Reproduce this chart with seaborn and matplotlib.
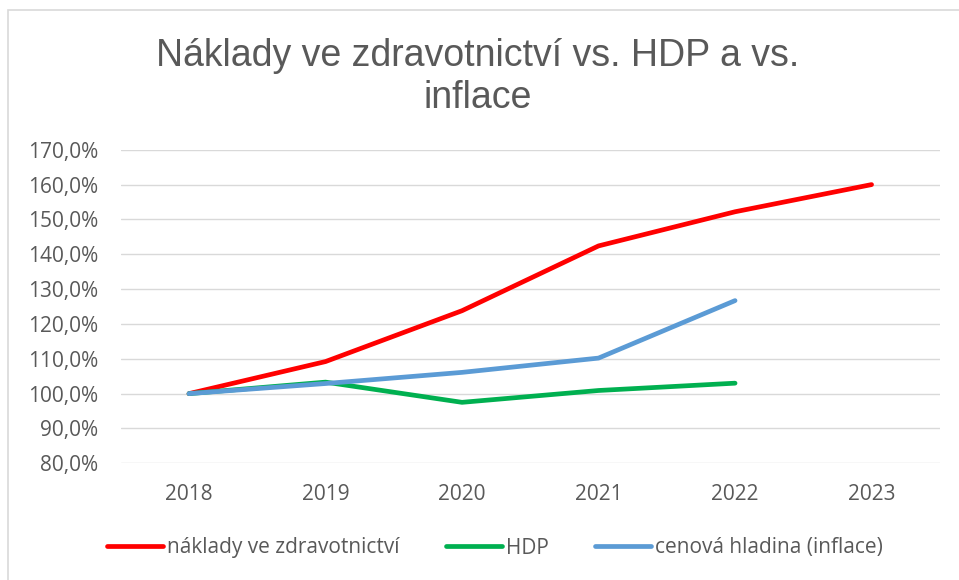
import pandas as pd
import matplotlib.pyplot as plt
import seaborn as sns
from matplotlib.ticker import FuncFormatter
from matplotlib.patches import Rectangle

# data (index, 2018 = 100 %)
years = ['2018', '2019', '2020', '2021', '2022', '2023']
naklady = [100.0, 109.2, 123.8, 142.4, 152.2, 160.0]
hdp = [100.0, 103.3, 97.5, 100.9, 103.0, None]
inflace = [100.0, 102.9, 106.1, 110.2, 126.7, None]

series_names = ['náklady ve zdravotnictví', 'HDP', 'cenová hladina (inflace)']
colors = ['#FF0000', '#00B050', '#5B9BD5']

df = pd.DataFrame({
    'rok': years * 3,
    'hodnota': naklady + hdp + inflace,
    'rada': [s for s in series_names for _ in years],
}).dropna()

sns.set_style('white')
plt.rcParams['font.family'] = ['Open Sans', 'DejaVu Sans']

fig = plt.figure(figsize=(9.59, 5.8), dpi=100)
ax = fig.add_axes([0.1259, 0.2012, 0.8541, 0.5406])

sns.lineplot(data=df, x='rok', y='hodnota', hue='rada', hue_order=series_names,
             palette=colors, linewidth=3.4, solid_capstyle='round', ax=ax,
             sort=False)

ax.set_ylim(80, 170)
ax.set_xlim(-0.5, 5.5)
ax.set_yticks(range(80, 171, 10))
ax.yaxis.set_major_formatter(FuncFormatter(lambda v, p: f"{v:.1f}%".replace('.', ',')))
ax.grid(axis='y', color='#D9D9D9', linewidth=1.0)
ax.set_axisbelow(True)
for s in ax.spines.values():
    s.set_visible(False)
ax.tick_params(axis='both', length=0, labelsize=15, labelcolor='#595959')
ax.tick_params(axis='y', pad=16.5)
ax.tick_params(axis='x', pad=15)
ax.set_xlabel('')
ax.set_ylabel('')

ax.legend(loc='center', bbox_to_anchor=(495 / 959, 1 - 548 / 580), bbox_transform=fig.transFigure,
          ncol=3, frameon=False, fontsize=15, handlelength=2.7, handletextpad=0.2,
          columnspacing=2.2, labelcolor='#595959')

fig.text(0.498, 1 - 108 / 580, 'Náklady ve zdravotnictví vs. HDP a vs.\ninflace',
         ha='center', va='baseline', multialignment='center', fontsize=27,
         color='#595959', family=['Liberation Sans', 'DejaVu Sans'], linespacing=1.2)

# chart border
fig.add_artist(Rectangle((8 / 959, -0.1), 1.0, 1 - 10 / 580 + 0.1, transform=fig.transFigure,
                         fill=False, edgecolor='#D9D9D9', linewidth=1.2, clip_on=False))

plt.savefig('out.png', dpi=100)
